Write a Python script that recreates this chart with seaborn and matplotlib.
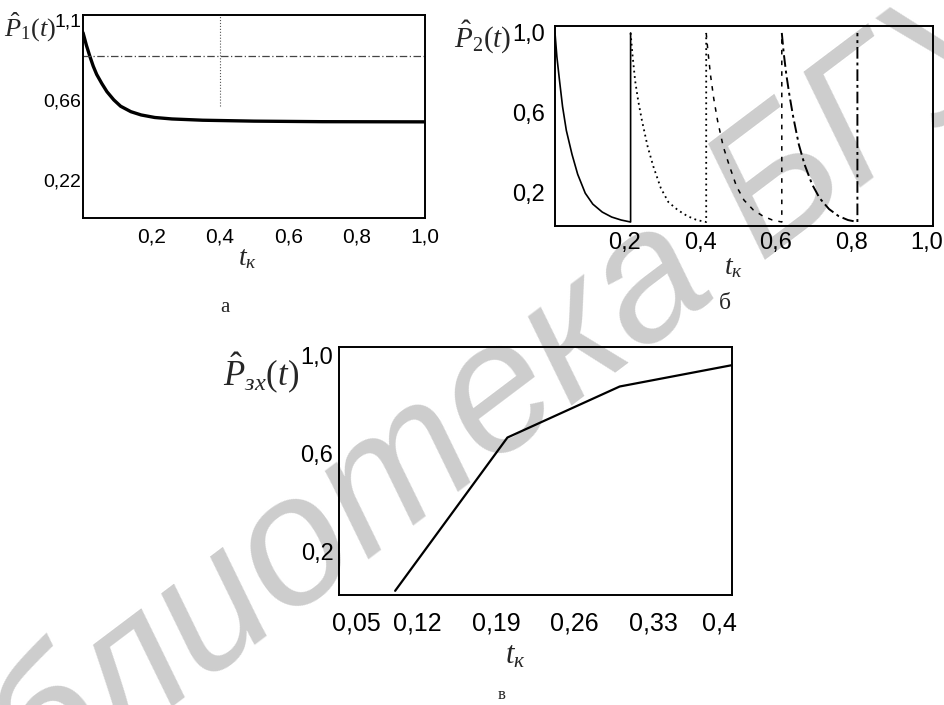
import matplotlib
matplotlib.use("Agg")
import matplotlib.pyplot as plt
import matplotlib.transforms as mtransforms
import seaborn as sns

sns.set_style("white")
plt.rcParams["font.family"] = ["Liberation Sans", "DejaVu Sans"]
plt.rcParams["mathtext.fontset"] = "custom"
plt.rcParams["mathtext.rm"] = "Liberation Serif"
plt.rcParams["mathtext.it"] = "Liberation Serif:italic"
plt.rcParams["mathtext.bf"] = "Liberation Serif:bold"

# ---------------- data ----------------
# panel a
a_t = [0.0, 0.01, 0.02, 0.03, 0.04, 0.055, 0.07, 0.09, 0.11, 0.14, 0.17,
       0.21, 0.26, 0.35, 0.5, 0.7, 1.0]
a_p = [1.03, 0.96, 0.90, 0.845, 0.80, 0.75, 0.705, 0.66, 0.625, 0.595, 0.577,
       0.563, 0.555, 0.548, 0.543, 0.540, 0.539]
a_yticks = [0.22, 0.66, 1.1]
a_yticklabels = ["0,22", "0,66", "1,1"]
a_xticks = [0.2, 0.4, 0.6, 0.8, 1.0]
a_xticklabels = ["0,2", "0,4", "0,6", "0,8", "1,0"]
a_hline = 0.9

# panel b (four traces, each ends with a jump back to 1)
b1_t = [0.0, 0.005, 0.012, 0.02, 0.03, 0.045, 0.06, 0.08, 0.1, 0.125, 0.15, 0.175, 0.2, 0.2]
b1_p = [1.0, 0.88, 0.76, 0.63, 0.51, 0.39, 0.29, 0.195, 0.14, 0.10, 0.075, 0.06, 0.05, 1.0]
b2_t = [0.2, 0.205, 0.212, 0.22, 0.23, 0.245, 0.26, 0.28, 0.3, 0.325, 0.35, 0.375, 0.4, 0.4]
b2_p = [1.0, 0.89, 0.76, 0.66, 0.56, 0.43, 0.33, 0.22, 0.15, 0.11, 0.08, 0.06, 0.05, 1.0]
b3_t = [0.4, 0.405, 0.412, 0.42, 0.43, 0.445, 0.46, 0.48, 0.5, 0.525, 0.55, 0.575, 0.6, 0.6]
b3_p = [1.0, 0.90, 0.78, 0.67, 0.56, 0.43, 0.34, 0.23, 0.16, 0.11, 0.08, 0.06, 0.05, 1.0]
b4_t = [0.6, 0.605, 0.612, 0.62, 0.63, 0.645, 0.66, 0.68, 0.7, 0.725, 0.75, 0.775, 0.8, 0.8]
b4_p = [1.0, 0.90, 0.79, 0.69, 0.58, 0.44, 0.34, 0.24, 0.17, 0.115, 0.08, 0.06, 0.05, 1.0]
b_yticks = [0.2, 0.6, 1.0]
b_yticklabels = ["0,2", "0,6", "1,0"]
b_xticks = [0.2, 0.4, 0.6, 0.8, 1.0]
b_xticklabels = ["0,2", "0,4", "0,6", "0,8", "1,0"]

# panel c
c_t = [0.1, 0.2, 0.3, 0.4]
c_p = [0.04, 0.665, 0.873, 0.96]
c_yticks = [0.2, 0.6, 1.0]
c_yticklabels = ["0,2", "0,6", "1,0"]
c_xticks = [0.05, 0.12, 0.19, 0.26, 0.33, 0.4]
c_xticklabels = ["0,05", "0,12", "0,19", "0,26", "0,33", "0,4"]

W, H = 944, 705
fig = plt.figure(figsize=(W / 100, H / 100), dpi=100)


def rect(x0, y0, x1, y1):
    return [x0 / W, 1 - y1 / H, (x1 - x0) / W, (y1 - y0) / H]


def ftext(x, y, s, **kw):
    fig.text(x / W, 1 - y / H, s, ha="center", va="center", **kw)


def style_axes(ax, xfs, yfs, xpad, ypad):
    ax.set_facecolor("none")
    for sp in ax.spines.values():
        sp.set_visible(True)
        sp.set_color("black")
        sp.set_linewidth(1.4)
    ax.tick_params(length=0, colors="black")
    ax.tick_params(axis="x", pad=xpad, labelsize=xfs)
    ax.tick_params(axis="y", pad=ypad, labelsize=yfs)
    ax.set_xlabel("")
    ax.set_ylabel("")
    ax.grid(False)


# watermark
fig.text(520 / W, 1 - 385 / H, "Библиотека БГУИР", rotation=37, fontsize=132,
         style="italic", color="#cdcdcd", ha="center", va="center", zorder=-5)

# ---------------- panel a ----------------
ax1 = fig.add_axes(rect(83, 15, 425, 218))
sns.lineplot(x=a_t, y=a_p, ax=ax1, color="black", lw=2.4, estimator=None, sort=False)
ax1.axhline(a_hline, color="#444444", lw=0.9, ls=(0, (6, 2, 1, 2)))
ax1.axvline(0.4, ymin=0.55, ymax=1.0, color="#555555", lw=0.8, ls=":")
ax1.set_xlim(0, 1.0)
ax1.set_ylim(0.01, 1.127)
ax1.set_xticks(a_xticks, a_xticklabels)
ax1.set_yticks(a_yticks, a_yticklabels)
style_axes(ax1, 15, 14, 7, 1)

# ---------------- panel b ----------------
ax2 = fig.add_axes(rect(555, 26, 933, 226))
sns.lineplot(x=b1_t, y=b1_p, ax=ax2, color="black", lw=1.2, estimator=None, sort=False)
sns.lineplot(x=b2_t, y=b2_p, ax=ax2, color="black", lw=1.3, estimator=None, sort=False,
             linestyle=(0, (1, 2)))
sns.lineplot(x=b3_t, y=b3_p, ax=ax2, color="black", lw=1.1, estimator=None, sort=False,
             linestyle=(0, (3, 4)))
sns.lineplot(x=b4_t, y=b4_p, ax=ax2, color="black", lw=1.4, estimator=None, sort=False,
             linestyle=(0, (6, 2, 1.5, 2)))
ax2.set_xlim(0, 1.0)
ax2.set_ylim(0.03, 1.035)
ax2.set_xticks(b_xticks, b_xticklabels)
ax2.set_yticks(b_yticks, b_yticklabels)
style_axes(ax2, 17, 17, 4, 7)
shift = mtransforms.ScaledTranslation(-6 / 100, 0, fig.dpi_scale_trans)
for lab in ax2.get_xticklabels():
    lab.set_transform(lab.get_transform() + shift)

# ---------------- panel c ----------------
ax3 = fig.add_axes(rect(339, 347, 732, 595))
sns.lineplot(x=c_t, y=c_p, ax=ax3, color="black", lw=1.6, estimator=None, sort=False)
ax3.set_xlim(0.05, 0.4)
ax3.set_ylim(0.023, 1.034)
ax3.set_xticks(c_xticks, c_xticklabels)
ax3.set_yticks(c_yticks, c_yticklabels)
style_axes(ax3, 18, 17, 12, 4)
lbls = ax3.get_xticklabels()
lbls[0].set_ha("left")
lbls[-1].set_ha("right")
shift_l = mtransforms.ScaledTranslation(-7 / 100, 0, fig.dpi_scale_trans)
shift_r = mtransforms.ScaledTranslation(5 / 100, 0, fig.dpi_scale_trans)
lbls[0].set_transform(lbls[0].get_transform() + shift_l)
lbls[-1].set_transform(lbls[-1].get_transform() + shift_r)

# ---------------- labels ----------------
ftext(30, 27, r"$\hat{P}_1(t)$", fontsize=19)
ftext(483, 37, r"$\hat{P}_2(t)$", fontsize=21)
ftext(261, 373, r"$\hat{P}_{зх}(t)$", fontsize=25)

ftext(247, 258, r"$t_к$", fontsize=20)
ftext(733, 267, r"$t_к$", fontsize=20)
ftext(515, 655, r"$t_к$", fontsize=22)

ftext(225, 307, "а", fontsize=15, family="Liberation Serif")
ftext(725, 304, "б", fontsize=17, family="Liberation Serif")
ftext(502, 695, "в", fontsize=12, family="Liberation Serif")

fig.savefig("out.png", dpi=100, facecolor="white")
